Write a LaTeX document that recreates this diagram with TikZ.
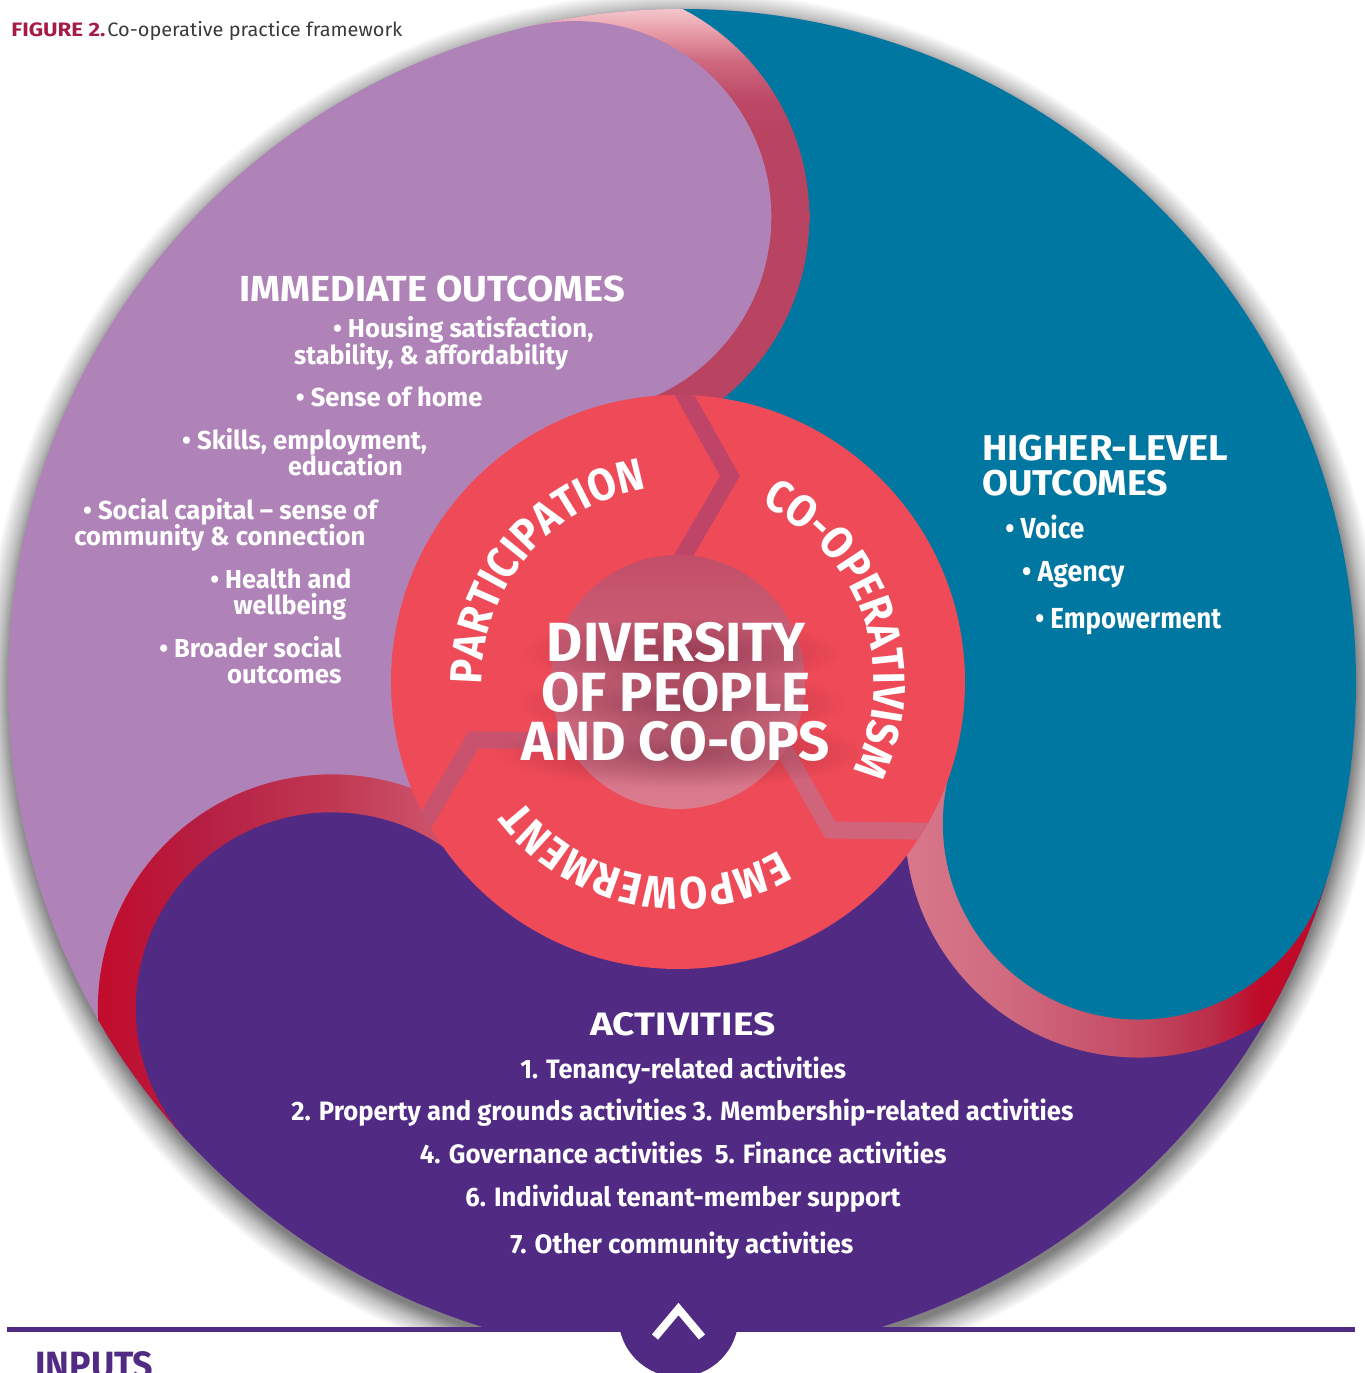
\documentclass[tikz,border=0pt]{standalone}
\usepackage{fontspec}
\setmainfont{Fira Sans}
\newfontfamily\ringfamily{Fira Sans}[FakeStretch=0.9]
\usepackage{graphicx}
\usetikzlibrary{decorations.text,fadings}

% ---------- colours ----------
\definecolor{lobeLilac}{HTML}{B083B8}
\definecolor{lobeTeal}{HTML}{0077A0}
\definecolor{lobePurple}{HTML}{512A84}
\definecolor{coral}{HTML}{EF4A57}
\definecolor{titleRed}{HTML}{A51C45}
\definecolor{titleGray}{HTML}{3A3A3A}
\definecolor{innerTop}{HTML}{C24E68}
\definecolor{innerBottom}{HTML}{DB7C8F}
\definecolor{haloDark}{HTML}{5A1428}
\definecolor{bandTop}{HTML}{BE4567}
\definecolor{bandRight}{HTML}{CF647B}
\definecolor{bandLeft}{HTML}{C9536E}
\definecolor{rimLa}{HTML}{B84462}
\definecolor{rimLb}{HTML}{BC4866}
\definecolor{rimLc}{HTML}{D06A80}
\definecolor{rimLd}{HTML}{E9A0AB}
\definecolor{rimLe}{HTML}{F5CACF}
\definecolor{rimTa}{HTML}{D8788A}
\definecolor{rimTb}{HTML}{D06A7F}
\definecolor{rimTc}{HTML}{C44A62}
\definecolor{rimTd}{HTML}{BA2C48}
\definecolor{rimTe}{HTML}{C00A2A}
\definecolor{rimPa}{HTML}{C20C2C}
\definecolor{rimPb}{HTML}{B51E42}
\definecolor{rimPc}{HTML}{C03852}
\definecolor{rimPd}{HTML}{CB5068}
\definecolor{rimPe}{HTML}{CF5A70}
\definecolor{shadowA}{gray}{0.50}
\definecolor{shadowB}{gray}{0.76}

% ---------- shadings for the rims of the three lobes ----------
\pgfdeclareverticalshading{rimLilac}{100bp}{color(0bp)=(rimLa); color(59bp)=(rimLa); color(62.5bp)=(rimLb); color(66.8bp)=(rimLc); color(70bp)=(rimLd); color(72.5bp)=(rimLe); color(100bp)=(rimLe)}
\pgfdeclarehorizontalshading{rimTeal}{100bp}{color(0bp)=(rimTa); color(25bp)=(rimTa); color(36bp)=(rimTb); color(50bp)=(rimTc); color(58bp)=(rimTd); color(63bp)=(rimTe); color(100bp)=(rimTe)}
\pgfdeclarehorizontalshading{rimPurple}{100bp}{color(0bp)=(rimPa); color(25bp)=(rimPa); color(36bp)=(rimPb); color(50bp)=(rimPc); color(60bp)=(rimPd); color(75bp)=(rimPe); color(100bp)=(rimPe)}
\pgfdeclareradialshading{outerShadow}{\pgfpoint{0bp}{0bp}}{color(0bp)=(shadowA); color(24bp)=(shadowA); color(24.43bp)=(shadowB); color(25bp)=(white); color(50bp)=(white)}
\tikzfading[name=softblob, inner color=transparent!15, outer color=transparent!100]

% text squeezed or stretched to a given width, height kept
\newcommand\fitw[2]{\resizebox{#1}{\height}{#2}}
\newcommand\ringtype{\color{white}\ringfamily\bfseries\fontsize{22.5}{24}\selectfont}

\tikzset{
  txt/.style={inner sep=0pt, anchor=base west, text=white},
  headA/.style={txt, font=\bfseries\fontsize{18.1}{20}\selectfont},
  itemA/.style={txt, font=\bfseries\fontsize{13}{14}\selectfont},
  headB/.style={txt, font=\bfseries\fontsize{17.9}{20}\selectfont},
  itemB/.style={txt, font=\bfseries\fontsize{14.5}{16}\selectfont},
  headC/.style={txt, font=\bfseries\fontsize{16.2}{18}\selectfont},
  itemC/.style={txt, font=\bfseries\fontsize{13.3}{15}\selectfont},
  core/.style={inner sep=0pt, anchor=base, text=white, font=\bfseries\fontsize{27.6}{30}\selectfont},
  halo/.style={haloDark, fill opacity=0.55, path fading=softblob},
  band/.style={line width=8.5pt, miter limit=10},
  ringword/.style={decorate, decoration={text along path, text align=center, text={|\ringtype|#1}}},
}

\begin{document}
\begin{tikzpicture}[x=0.5pt,y=0.5pt]
\useasboundingbox (0,0) rectangle (1365,1373);
\clip (0,0) rectangle (1365,1373);
\coordinate (C) at (682,690);
\coordinate (RC) at (678,691);

% ---------- the three lobes inside the big disc ----------
\begin{scope}
  \clip (0,43) rectangle (1365,1373);
  \shade[shading=outerShadow] (683,683) circle[radius=700];
  \clip (C) circle[radius=674];
  \fill[lobeLilac] (C) circle[radius=674];
  \begin{scope}[shift={(682,690)}]
    % sectors
    \fill[lobeTeal] (0,0) -- (91:1400) -- (31:1400) -- (-29:1400) -- cycle;
    \fill[lobePurple] (0,0) -- (211:1400) -- (271:1400) -- (331:1400) -- cycle;
    % shaded rims, on the leading side of each head
    \begin{scope}
      \clip (102.9:1400) -- (12.9:1400) -- (-77.1:1400) -- cycle;
      \shade[shading=rimLilac] (102.9:478) circle[radius=234];
    \end{scope}
    \begin{scope}
      \clip (-17.1:1400) -- (-107.1:1400) -- (-197.1:1400) -- cycle;
      \shade[shading=rimTeal] (-17.1:478) circle[radius=234];
    \end{scope}
    \begin{scope}
      \clip (222.9:1400) -- (132.9:1400) -- (42.9:1400) -- cycle;
      \shade[shading=rimPurple] (222.9:478) circle[radius=234];
    \end{scope}
    % heads
    \fill[lobeLilac] (102.9:478) circle[radius=196];
    \fill[lobeTeal] (-17.1:478) circle[radius=196];
    \fill[lobePurple] (222.9:478) circle[radius=196];
  \end{scope}
\end{scope}

% ---------- central cycle ----------
\fill[coral] (RC) circle[radius=287];
\begin{scope}
  \clip (RC) circle[radius=287];
  \begin{scope}[shift={(678,691)}]
    \draw[band, bandTop] (-12,320) -- (52,206) -- (-8,103);
    \draw[band, bandRight, rotate=-120] (-12,320) -- (52,206) -- (-8,103);
    \draw[band, bandLeft, rotate=120] (-12,320) -- (52,206) -- (-8,103);
  \end{scope}
\end{scope}
\shade[top color=innerTop, bottom color=innerBottom] (RC) circle[radius=127];

\path[ringword=PARTICIPATION] (RC) ++(200:196) arc[start angle=200, end angle=80, radius=196];
\path[ringword=CO-OPERATIVISM] (RC) ++(79:196) arc[start angle=79, end angle=-41, radius=196];
\path[ringword=EMPOWERMENT] (RC) ++(-41:196) arc[start angle=-41, end angle=-161, radius=196];

% centre title on a soft dark halo
\fill[halo] (681,720) ellipse[x radius=160, y radius=36];
\fill[halo] (681,670) ellipse[x radius=165, y radius=36];
\fill[halo] (681,621) ellipse[x radius=185, y radius=36];
\node[core] (coreA) at (676,711) {\fitw{129pt}{DIVERSITY}};
\node[core] (coreB) at (676,661) {\fitw{134.5pt}{OF PEOPLE}};
\node[core] (coreC) at (676,612) {\fitw{154pt}{AND CO-OPS}};

% ---------- immediate outcomes ----------
\node[headA] (ioHead) at (238.8,1071.3) {\fitw{193pt}{IMMEDIATE OUTCOMES}};
\node[itemA] (io1a) at (332.6,1035.7) {\fitw{130.2pt}{• Housing satisfaction,}};
\node[itemA] (io1b) at (293.8,1008.7) {\fitw{137pt}{stability, \& affordability}};
\node[itemA] (io2)  at (295.5,966.3)  {\fitw{93.3pt}{• Sense of home}};
\node[itemA] (io3a) at (181.7,923)    {\fitw{122.5pt}{• Skills, employment,}};
\node[itemA] (io3b) at (287.7,897)    {\fitw{57.3pt}{education}};
\node[itemA] (io4a) at (82.7,853)     {\fitw{147pt}{• Social capital – sense of}};
\node[itemA] (io4b) at (74,827)       {\fitw{145.5pt}{community \& connection}};
\node[itemA] (io5a) at (210,784.7)    {\fitw{70.5pt}{• Health and}};
\node[itemA] (io5b) at (233.3,758)    {\fitw{56.3pt}{wellbeing}};
\node[itemA] (io6a) at (159,715.7)    {\fitw{91pt}{• Broader social}};
\node[itemA] (io6b) at (226.7,689.7)  {\fitw{57.2pt}{outcomes}};

% ---------- higher-level outcomes ----------
\node[headB] (hoHeadA) at (981.7,912.3) {\fitw{123.2pt}{HIGHER-LEVEL}};
\node[headB] (hoHeadB) at (981.7,877)   {\fitw{93pt}{OUTCOMES}};
\node[itemB] (ho1) at (1005,834.7)   {\fitw{39.5pt}{• Voice}};
\node[itemB] (ho2) at (1021.7,791.3) {\fitw{51.2pt}{• Agency}};
\node[itemB] (ho3) at (1035,744.7)   {\fitw{93pt}{• Empowerment}};

% ---------- activities ----------
\node[headC] (acHead) at (590,337.3) {\fitw{92.5pt}{ACTIVITIES}};
\node[itemC] (ac1) at (520,294.7)   {\fitw{162.8pt}{1. Tenancy-related activities}};
\node[itemC] (ac2) at (291,252)     {\fitw{391pt}{2. Property and grounds activities 3. Membership-related activities}};
\node[itemC] (ac3) at (419.5,209.7) {\fitw{263.3pt}{4. Governance activities\ \ 5. Finance activities}};
\node[itemC] (ac4) at (465,166.3)   {\fitw{217.5pt}{6. Individual tenant-member support}};
\node[itemC] (ac5) at (510,119.7)   {\fitw{171.5pt}{7. Other community activities}};

% ---------- baseline rule, tab and inputs ----------
\fill[lobePurple] (678.5,56) circle[radius=60];
\draw[lobePurple, line width=2.5pt] (7,43) -- (1355,43);
\draw[white, line width=4pt, miter limit=10] (655,36) -- (678.5,64) -- (702,36);
\node[inner sep=0pt, anchor=base west, text=lobePurple, font=\bfseries\fontsize{19}{20}\selectfont] (inputs) at (35,-6) {\fitw{59pt}{INPUTS}};

% ---------- caption ----------
\node[inner sep=0pt, anchor=base west, font=\fontsize{9.7}{11}\selectfont] (caption) at (11,1336.3)
  {\fitw{47pt}{\textcolor{titleRed}{\bfseries FIGURE 2.}}\hspace{1pt}\fitw{147.5pt}{\textcolor{titleGray}{Co-operative practice framework}}};
\end{tikzpicture}
\end{document}
